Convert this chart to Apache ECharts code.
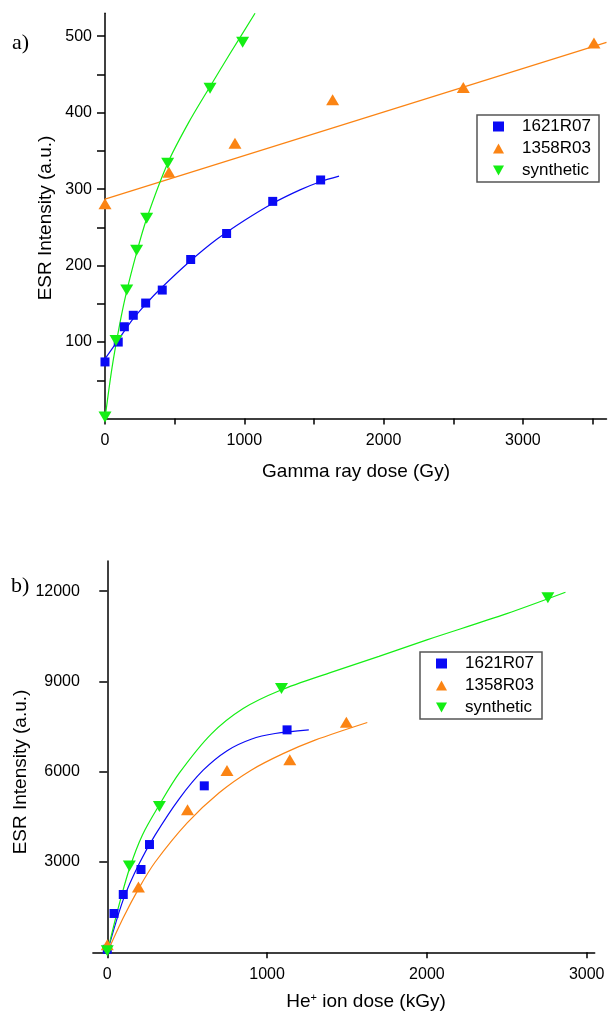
<!DOCTYPE html>
<html>
<head>
<meta charset="utf-8">
<script src="https://cdn.jsdelivr.net/npm/echarts@6/dist/echarts.min.js"></script>
<style>
  html, body { margin: 0; padding: 0; background: #fff; }
  #chart { width: 608px; height: 1015px; }
</style>
</head>
<body>
<div id="chart"></div>
<script>
// a) gamma ray irradiation
var gamma1621X = [0, 95, 139, 203, 292, 411, 615, 873, 1204, 1548];
var gamma1621Y = [74, 100, 120, 135, 151, 168, 208, 242, 284, 312];
var gamma1358X = [0, 459, 933, 1634, 2572, 3510];
var gamma1358Y = [281, 322, 360, 417, 433, 491];
var gammaSynX = [0, 79, 156, 227, 299, 450, 754, 988];
var gammaSynY = [2, 102, 168, 220, 262, 334, 432, 492];
// fitted curves
var gammaFit1621X = [0, 100, 200, 300, 400, 600, 800, 1000, 1200, 1400, 1550, 1680];
var gammaFit1621Y = [78, 104, 130, 151, 170, 204, 234, 259, 281, 299, 310, 317];
var gammaFit1358X = [0, 3600];
var gammaFit1358Y = [287, 492];
var gammaFitSynX = [0, 50, 100, 150, 230, 300, 450, 600, 750, 900, 1077];
var gammaFitSynY = [0, 66, 118, 162, 219, 262, 334, 387, 433, 478, 530];

// b) He+ ion irradiation
var he1621X = [0, 42, 100, 211, 264, 607, 1125];
var he1621Y = [100, 1290, 1920, 2750, 3580, 5530, 7390];
var he1358X = [0, 195, 502, 749, 1142, 1496];
var he1358Y = [250, 2170, 4735, 6040, 6400, 7640];
var heSynX = [0, 138, 326, 1090, 2757];
var heSynY = [50, 2870, 4840, 8760, 11780];
var heFit1621X = [0, 100, 200, 300, 450, 600, 750, 900, 1050, 1261];
var heFit1621Y = [0, 1750, 2950, 3900, 5100, 6050, 6700, 7080, 7270, 7390];
var heFit1358X = [0, 100, 200, 300, 500, 700, 900, 1100, 1300, 1627];
var heFit1358Y = [0, 1150, 2150, 3000, 4300, 5300, 6050, 6600, 7050, 7636];
var heFitSynX = [0, 70, 140, 220, 326, 450, 650, 850, 1080, 1400, 1700, 2000, 2500, 2867];
var heFitSynY = [0, 1500, 2800, 3900, 4900, 5950, 7250, 8100, 8700, 9300, 9830, 10380, 11250, 11960];

var gammaXTicks = [0, 500, 1000, 1500, 2000, 2500, 3000, 3500];
var gammaXLabels = [0, 1000, 2000, 3000];
var gammaYTicks = [50, 100, 150, 200, 250, 300, 350, 400, 450, 500];
var gammaYLabels = [100, 200, 300, 400, 500];
var heXTicks = [0, 1000, 2000, 3000];
var heYTicks = [3000, 6000, 9000, 12000];

var names = ['1621R07', '1358R03', 'synthetic'];
var colors = ['#0a0af5', '#fb8414', '#14ee14'];

function zip(xs, ys) {
  return xs.map(function (x, i) { return [x, ys[i]]; });
}

var FONT = '"Liberation Sans", Arial, sans-serif';
function plain(v) { return String(v); }

function xAxisOf(grid, min, max, ticks, labels) {
  return {
    type: 'value', gridIndex: grid, min: min, max: max,
    splitLine: { show: false },
    axisLine: { lineStyle: { color: '#000', width: 1.5 } },
    axisTick: { customValues: ticks, length: 6, lineStyle: { color: '#000', width: 1.5 } },
    axisLabel: { customValues: labels, formatter: plain, margin: 14, color: '#000', fontSize: 16, fontFamily: FONT }
  };
}
function yAxisOf(grid, min, max, ticks, labels) {
  return {
    type: 'value', gridIndex: grid, min: min, max: max,
    splitLine: { show: false },
    axisLine: { show: true, lineStyle: { color: '#000', width: 1.5 } },
    axisTick: { show: true, customValues: ticks, length: 8, lineStyle: { color: '#000', width: 1.5 } },
    axisLabel: { customValues: labels, formatter: plain, margin: 13, color: '#000', fontSize: 16, fontFamily: FONT }
  };
}

function fitLine(grid, xs, ys, color) {
  return {
    type: 'line', xAxisIndex: grid, yAxisIndex: grid,
    data: zip(xs, ys), smooth: 0.3, showSymbol: false, silent: true,
    lineStyle: { color: color, width: 1.2 }, z: 2
  };
}
function points(grid, idx, xs, ys) {
  var sym = ['rect', 'triangle', 'triangle'][idx];
  return {
    type: 'scatter', name: names[idx], xAxisIndex: grid, yAxisIndex: grid,
    data: zip(xs, ys), symbol: sym,
    symbolSize: idx === 0 ? 9 : [13, 11],
    symbolRotate: idx === 2 ? 180 : 0,
    itemStyle: { color: colors[idx], opacity: 1 }, z: 3
  };
}

var legendIcons = ['rect', 'triangle', 'path://M0,0L10,0L5,9Z'];
function legendAt(left, top) {
  return {
    orient: 'vertical', left: left, top: top,
    data: names.map(function (n, i) { return { name: n, icon: legendIcons[i] }; }),
    itemWidth: 11, itemHeight: 10, itemGap: 5,
    padding: [3, 8, 3, 16],
    borderColor: '#555', borderWidth: 1.5, backgroundColor: '#fff',
    selectedMode: false,
    textStyle: { fontSize: 17, fontFamily: FONT, color: '#000', lineHeight: 17, padding: [0, 0, 0, 13] }
  };
}

var chart = echarts.init(document.getElementById('chart'));
chart.setOption({
  backgroundColor: '#fff',
  animation: false,
  grid: [
    { left: 105, top: 13.3, width: 501.5, height: 405.2 },
    { left: 92.9, top: 561, width: 501.8, height: 391.3 }
  ],
  xAxis: [
    xAxisOf(0, 0, 3600, gammaXTicks, gammaXLabels),
    xAxisOf(1, -90, 3050, heXTicks, heXTicks)
  ],
  yAxis: [
    yAxisOf(0, 0, 530, gammaYTicks, gammaYLabels),
    yAxisOf(1, 0, 13000, heYTicks, heYTicks)
  ],
  legend: [legendAt(477, 115), legendAt(420, 652)],
  graphic: [
    { type: 'text', x: 12, y: 43, style: { text: 'a)', font: '22px "Liberation Serif", serif', fill: '#000', verticalAlign: 'middle' } },
    { type: 'text', x: 11, y: 586, style: { text: 'b)', font: '22px "Liberation Serif", serif', fill: '#000', verticalAlign: 'middle' } },
    { type: 'text', x: 356, y: 472, style: { text: 'Gamma ray dose (Gy)', font: '19px ' + FONT, fill: '#000', align: 'center', verticalAlign: 'middle' } },
    { type: 'text', x: 366, y: 1002, style: {
        text: '{n|He}{s|+}{n| ion dose (kGy)}', align: 'center', verticalAlign: 'middle',
        rich: { n: { fontSize: 19, fontFamily: FONT, fill: '#000' }, s: { fontSize: 11, fontFamily: FONT, fill: '#000', verticalAlign: 'top', padding: [0, 0, 8, 0] } }
      } },
    { type: 'text', x: 46, y: 218, rotation: Math.PI / 2, style: { text: 'ESR Intensity (a.u.)', font: '19px ' + FONT, fill: '#000', align: 'center', verticalAlign: 'middle' } },
    { type: 'text', x: 21, y: 772, rotation: Math.PI / 2, style: { text: 'ESR Intensity (a.u.)', font: '19px ' + FONT, fill: '#000', align: 'center', verticalAlign: 'middle' } }
  ],
  series: [
    fitLine(0, gammaFit1621X, gammaFit1621Y, colors[0]),
    fitLine(0, gammaFit1358X, gammaFit1358Y, colors[1]),
    fitLine(0, gammaFitSynX, gammaFitSynY, colors[2]),
    points(0, 0, gamma1621X, gamma1621Y),
    points(0, 1, gamma1358X, gamma1358Y),
    points(0, 2, gammaSynX, gammaSynY),
    fitLine(1, heFit1621X, heFit1621Y, colors[0]),
    fitLine(1, heFit1358X, heFit1358Y, colors[1]),
    fitLine(1, heFitSynX, heFitSynY, colors[2]),
    points(1, 0, he1621X, he1621Y),
    points(1, 1, he1358X, he1358Y),
    points(1, 2, heSynX, heSynY)
  ]
});
</script>
</body>
</html>
